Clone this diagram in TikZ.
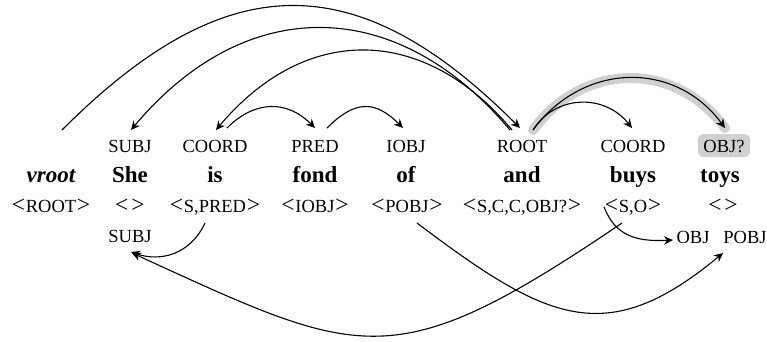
\documentclass[tikz,border=0pt]{standalone}
\usepackage{fontspec}
\setmainfont{Liberation Serif}
\usetikzlibrary{arrows.meta,calc}
\definecolor{hlgray}{RGB}{208,208,208}
\newcommand\ltg{{\fontsize{23.5}{24}\selectfont<}}
\newcommand\gtg{{\fontsize{23.5}{24}\selectfont>}}
\newcommand\tpl[1]{\ltg\kern0.8pt#1\kern0.8pt\gtg}
\newcommand\emptytpl{\ltg\kern3pt\gtg}
\begin{document}
\begin{tikzpicture}[x=1pt,y=-1pt,
  lab/.style={font=\fontsize{18.5}{20}\selectfont, inner sep=0pt, anchor=base},
  wrd/.style={font=\fontsize{23}{26}\selectfont\bfseries, inner sep=0pt, anchor=base},
  dep/.style={line width=1.1pt, -{Stealth[length=9pt,width=8.5pt,inset=3pt]}},
  hlpath/.style={line width=10pt, draw=hlgray, line cap=round},
]
\useasboundingbox (0,0) rectangle (767,341);
% top labels
\node[lab] (subjT) at (130,152) {SUBJ};
\node[lab] (coordA) at (215,152) {COORD};
\node[lab] (predT) at (315,152) {PRED};
\node[lab] (iobjT) at (406,152) {IOBJ};
\node[lab] (rootT) at (522,152) {ROOT};
\node[lab] (coordB) at (633,152) {COORD};
\node[lab, fill=hlgray, rounded corners=6pt, inner xsep=5.5pt, inner ysep=5pt, text height=13pt, text depth=0pt] (objq) at (724,152) {OBJ?};
% words
\node[wrd, font=\fontsize{23}{26}\selectfont\bfseries\itshape] (vr) at (51,182) {vroot};
\node[wrd] (she) at (130,182) {She};
\node[wrd] (is) at (215,182) {is};
\node[wrd] (fond) at (315,182) {fond};
\node[wrd] (of) at (406,182) {of};
\node[wrd] (and) at (522,182) {and};
\node[wrd] (buys) at (633,182) {buys};
\node[wrd] (toys) at (720,182) {toys};
% templates
\node[lab] (tROOT) at (51,212) {\tpl{ROOT}};
\node[lab] (tShe) at (130,212) {\emptytpl};
\node[lab] (spred) at (215,212) {\tpl{S,PRED}};
\node[lab] (tiobj) at (315,212) {\tpl{IOBJ}};
\node[lab] (tpobj) at (407,212) {\tpl{POBJ}};
\node[lab] (tscc) at (522,212) {\tpl{S,C,C,OBJ?}};
\node[lab] (so) at (633,212) {\tpl{S,O}};
\node[lab] (ttoys) at (723,212) {\emptytpl};
% lower labels
\node[lab] (subjL) at (130,242) {SUBJ};
\node[lab] (objL) at (693,243) {OBJ};
\node[lab] (pobjL) at (745,243) {POBJ};
% highlight
\draw[hlpath] ($(rootT.base)+(11,-22)$) .. controls +(50,-68) and +(-50,-68) .. ($(objq.base)+(1,-24)$);
% top arcs
\draw[dep] ($(vr.base)+(11,-52)$) .. controls +(164,-164) and +(-164,-164) .. ($(rootT.base)+(-2,-24)$);
\draw[dep] ($(rootT.base)+(-12,-22)$) .. controls +(-114,-136) and +(114,-136) .. ($(subjT.base)+(1,-22)$);
\draw[dep] ($(rootT.base)+(-10,-22)$) .. controls +(-89,-106) and +(89,-106) .. ($(coordA.base)+(1,-22)$);
\draw[dep] ($(coordA.base)+(12,-24)$) .. controls +(28,-28) and +(-28,-28) .. ($(predT.base)+(0,-24)$);
\draw[dep] ($(predT.base)+(12,-24)$) .. controls +(28,-28) and +(-28,-28) .. ($(iobjT.base)+(-3,-24)$);
\draw[dep] ($(rootT.base)+(11,-22)$) .. controls +(22,-35) and +(-28,-35) .. ($(coordB.base)+(-1,-24)$);
\draw[dep] ($(rootT.base)+(11,-22)$) .. controls +(50,-68) and +(-50,-68) .. ($(objq.base)+(1,-24)$);
% bottom arcs
\draw[dep] ($(spred.base)+(-10,11)$) .. controls +(-15,32) and +(29,10) .. ($(subjL.base)+(1,10)$);
\draw[dep] ($(so.base)+(-11,11)$) .. controls +(-230,156) and +(230,105) .. ($(subjL.base)+(2,11)$);
\draw[dep] ($(tpobj.base)+(10,11)$) .. controls +(130,98) and +(-117,97) .. ($(pobjL.base)+(-22,10)$);
\draw[dep] ($(so.base)+(-29,-5)$) .. controls +(11,28) and +(-38,2) .. ($(objL.base)+(-20,-3)$);
\end{tikzpicture}
\end{document}
